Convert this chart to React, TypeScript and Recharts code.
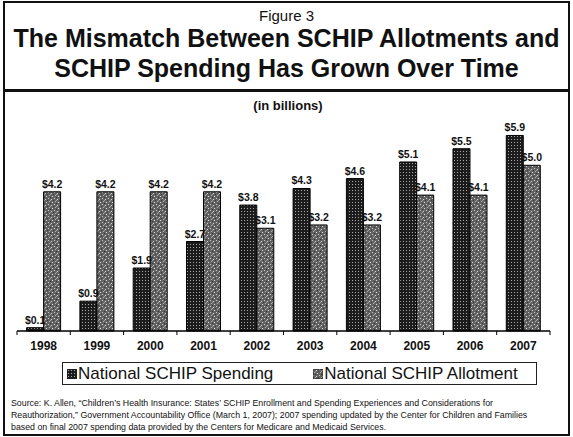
import React from 'react';
import { BarChart, Bar, XAxis, YAxis, LabelList, Legend } from 'recharts';

const years = ['1998', '1999', '2000', '2001', '2002', '2003', '2004', '2005', '2006', '2007'];
const spending = [0.1, 0.9, 1.9, 2.7, 3.8, 4.3, 4.6, 5.1, 5.5, 5.9];
const allotment = [4.2, 4.2, 4.2, 4.2, 3.1, 3.2, 3.2, 4.1, 4.1, 5.0];
const seriesNames = ['National SCHIP Spending', 'National SCHIP Allotment'];
const titleLines = ['The Mismatch Between SCHIP Allotments and', 'SCHIP Spending Has Grown Over Time'];
const sourceLines = [
  'Source: K. Allen, \u201cChildren\u2019s Health Insurance: States\u2019 SCHIP Enrollment and Spending Experiences and Considerations for',
  'Reauthorization,\u201d Government Accountability Office (March 1, 2007); 2007 spending updated by the Center for Children and Families',
  'based on final 2007 spending data provided by the Centers for Medicare and Medicaid Services.',
];

const data = years.map((year, i) => ({ year, spending: spending[i], allotment: allotment[i] }));

const font = '"Liberation Sans", Arial, sans-serif';
const money = (v: any) => `$${Number(v).toFixed(1)}`;

// texture fills, referenced by url(#id) from the chart svg
const Patterns = () => (
  <svg width={0} height={0} style={{ position: 'absolute' }}>
    <defs>
      <pattern id="spendFill" patternUnits="userSpaceOnUse" width={3} height={3}>
        <rect width={3} height={3} fill="#1c1c1c" />
        <rect x={1} y={1} width={1} height={1} fill="#a8a8a8" />
      </pattern>
      <pattern id="allotFill" patternUnits="userSpaceOnUse" width={6} height={6}>
        <rect width={6} height={6} fill="#626262" />
        <rect x={0} y={0} width={1} height={1} fill="#c8c8c8" />
        <rect x={3} y={1} width={1} height={1} fill="#d4d4d4" />
        <rect x={1} y={3} width={1} height={1} fill="#b0b0b0" />
        <rect x={4} y={4} width={1} height={1} fill="#dcdcdc" />
        <rect x={2} y={5} width={1} height={1} fill="#333" />
        <rect x={5} y={2} width={1} height={1} fill="#383838" />
        <rect x={2} y={2} width={1} height={1} fill="#a0a0a0" />
      </pattern>
    </defs>
  </svg>
);

const YearTick = (props: any) => {
  const { x, y, payload } = props;
  const half = payload && payload.offset > 0 ? payload.offset : 26.6;
  return (
    <g>
      <line x1={x - half} x2={x - half} y1={y} y2={y + 4} stroke="#000" strokeWidth={1} />
      {payload.index === years.length - 1 && (
        <line x1={x + half} x2={x + half} y1={y} y2={y + 4} stroke="#000" strokeWidth={1} />
      )}
      <text x={x} y={y + 19} textAnchor="middle" fontFamily={font} fontWeight="bold" fontSize={12} fill="#111">
        {payload.value}
      </text>
    </g>
  );
};

const LegendBox = () => (
  <div
    style={{
      width: 475,
      height: 23,
      boxSizing: 'border-box',
      border: '1px solid #222',
      display: 'flex',
      alignItems: 'center',
      fontFamily: font,
      fontSize: 17,
      color: '#111',
      lineHeight: '21px',
      whiteSpace: 'nowrap',
    }}
  >
    {seriesNames.map((name, i) => (
      <span key={name} style={{ display: 'flex', alignItems: 'center', marginLeft: i === 0 ? 4 : 40 }}>
        <svg width={10} height={10} style={{ marginRight: 1 }}>
          <rect width={10} height={10} fill={i === 0 ? 'url(#spendFill)' : 'url(#allotFill)'} stroke="#222" />
        </svg>
        {name}
      </span>
    ))}
  </div>
);

export default function App() {
  return (
    <div style={{ position: 'absolute', left: 0, top: 0, width: 573, height: 437, background: '#fff', overflow: 'hidden' }}>
      <Patterns />
      <BarChart
        width={573}
        height={437}
        data={data}
        margin={{ top: 99, right: 23, left: 17, bottom: 53 }}
        barCategoryGap="18%"
        barGap={0}
      >
        <YAxis hide domain={[0, 7]} />
        <XAxis
          dataKey="year"
          height={30}
          tickSize={0}
          tickMargin={0}
          tick={<YearTick />}
          axisLine={{ stroke: '#000', strokeWidth: 1.5 }}
          interval={0}
        />
        <Legend verticalAlign="bottom" content={<LegendBox />} wrapperStyle={{ left: 62, top: 362, width: 475, height: 23 }} />
        <Bar dataKey="spending" name={seriesNames[0]} fill="url(#spendFill)" stroke="#000" strokeWidth={1} isAnimationActive={false}>
          <LabelList dataKey="spending" position="top" offset={4} formatter={money} fontFamily={font} fontWeight="bold" fontSize={10.5} fill="#111" />
        </Bar>
        <Bar dataKey="allotment" name={seriesNames[1]} fill="url(#allotFill)" stroke="#000" strokeWidth={1} isAnimationActive={false}>
          <LabelList dataKey="allotment" position="top" offset={4} formatter={money} fontFamily={font} fontWeight="bold" fontSize={10.5} fill="#111" />
        </Bar>
      </BarChart>

      {/* frame and heading */}
      <div style={{ position: 'absolute', left: 3, top: 1, width: 567, height: 435, border: '2px solid #111', boxSizing: 'border-box', pointerEvents: 'none' }} />
      <div style={{ position: 'absolute', left: 3, top: 89, width: 567, height: 3, background: '#111' }} />
      <div style={{ position: 'absolute', left: 0, top: 7, width: 573, textAlign: 'center', fontFamily: font, fontSize: 15, color: '#111', lineHeight: '18px' }}>
        Figure 3
      </div>
      {titleLines.map((line, i) => (
        <div
          key={line}
          style={{ position: 'absolute', left: 0, top: 24 + i * 30, width: 573, textAlign: 'center', fontFamily: font, fontWeight: 'bold', fontSize: 25, color: '#111', lineHeight: '29px', whiteSpace: 'nowrap' }}
        >
          {line}
        </div>
      ))}
      <div style={{ position: 'absolute', left: 0, top: 98, width: 576, textAlign: 'center', fontFamily: font, fontWeight: 'bold', fontSize: 13, color: '#111', lineHeight: '16px' }}>
        (in billions)
      </div>
      {sourceLines.map((line, i) => (
        <div
          key={i}
          style={{ position: 'absolute', left: 11, top: 397 + i * 12, fontFamily: font, fontSize: 8.8, color: '#111', lineHeight: '12px', whiteSpace: 'nowrap' }}
        >
          {line}
        </div>
      ))}
    </div>
  );
}
